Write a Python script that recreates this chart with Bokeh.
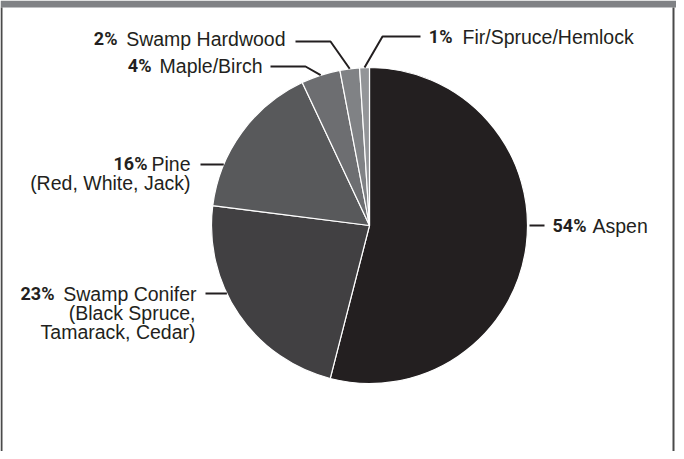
import math
from bokeh.plotting import figure
from bokeh.models import Range1d, ColumnDataSource
from bokeh.core.properties import value
from bokeh.embed import file_html
from bokeh.resources import INLINE

# ---- data ----
species = ["Aspen", "Swamp Conifer", "Pine", "Maple/Birch", "Swamp Hardwood", "Fir/Spruce/Hemlock"]
shares = [54, 23, 16, 4, 2, 1]
sublabels = [[], ["(Black Spruce,", "Tamarack, Cedar)"], ["(Red, White, Jack)"], [], [], []]
colors = ["#231f20", "#414042", "#58595b", "#6d6e71", "#808285", "#939598"]

W, H = 676, 451
PAGE_H = 459


def Y(py):
    # page pixel y -> data y
    return PAGE_H - py


p = figure(width=W, height=H, output_backend="svg", toolbar_location=None,
           x_range=Range1d(8, 8 + W), y_range=Range1d(0, H),
           x_axis_type=None, y_axis_type=None, min_border=0)
p.grid.visible = False
p.outline_line_color = None
p.background_fill_color = "white"

# frame: top band and side borders
p.quad(left=[8], right=[8 + W], bottom=[Y(15)], top=[Y(8)], fill_color="#808285", line_color=None)
p.segment(x0=[9, 681], y0=[Y(15), Y(15)], x1=[9, 681], y1=[0, 0], line_color="#4a4a4a", line_width=2)

# pie
cx, cy, r = 377, 233, 158
total = sum(shares)
starts, ends, mids = [], [], []
acc = 0
for v in shares:
    a0 = math.pi / 2 - 2 * math.pi * acc / total
    acc += v
    a1 = math.pi / 2 - 2 * math.pi * acc / total
    starts.append(a0)
    ends.append(a1)
    mids.append((a0 + a1) / 2)

src = ColumnDataSource(dict(start=starts, end=ends, color=colors, name=species))
p.wedge(x=cx, y=Y(cy), radius=r, radius_units="screen", start_angle="start", end_angle="end",
        direction="clock", fill_color="color", line_color="white", line_width=1.2, source=src)


def rim_at_mid(i):
    return cx + r * math.cos(mids[i]), Y(cy) + r * math.sin(mids[i])


def rim_at_y(py, side):
    dy = py - cy
    dx = math.sqrt(r * r - dy * dy)
    return cx + side * dx, Y(py)


# leader lines (layout)
xs, ys = [], []
# Aspen
xs.append([537, 552]); ys.append([Y(233), Y(233)])
# Swamp Conifer
x0, y0 = rim_at_y(301, -1); xs.append([x0, 213]); ys.append([y0, Y(301)])
# Pine
x0, y0 = rim_at_y(172, -1); xs.append([x0, 208]); ys.append([y0, Y(172)])
# Maple/Birch
x0, y0 = rim_at_mid(3); xs.append([x0, 313, 278]); ys.append([y0, Y(74), Y(74)])
# Swamp Hardwood
x0, y0 = rim_at_mid(4); xs.append([x0, 338, 303]); ys.append([y0, Y(49), Y(49)])
# Fir
x0, y0 = rim_at_mid(5); xs.append([x0, 390, 428]); ys.append([y0, Y(44), Y(44)])
p.multi_line(xs=xs, ys=ys, line_color="#231f20", line_width=2)

# label layout: (pct x, pct align, name x, name align, y)
layout = [
    (560, "left", 600, "left", 233),
    (62, "right", 204, "right", 301),
    (155, "right", 198, "right", 171),
    (159, "right", 270, "right", 73),
    (125, "right", 293, "right", 46),
    (460, "right", 470, "left", 44),
]
sub_layout = {1: (203, [320, 339]), 2: (198, [190])}

PFONT = value("Roboto")
NFONT = value("Liberation Sans")
FS = "19.5px"
for i, (px, pal, nx, nal, py) in enumerate(layout):
    p.text(x=[px], y=[Y(py)], text=[f"{shares[i]}%"], text_font=PFONT, text_font_style="bold",
           text_font_size="18px", text_align=pal, text_baseline="middle", text_color="#231f20")
    p.text(x=[nx], y=[Y(py)], text=[species[i]], text_font=NFONT,
           text_font_size=FS, text_align=nal, text_baseline="middle", text_color="#231f20")
    if i in sub_layout:
        sx, sys_ = sub_layout[i]
        for t, sy in zip(sublabels[i], sys_):
            p.text(x=[sx], y=[Y(sy)], text=[t], text_font=NFONT,
                   text_font_size=FS, text_align="right", text_baseline="middle", text_color="#231f20")

open("out.html", "w").write(file_html(p, INLINE))
